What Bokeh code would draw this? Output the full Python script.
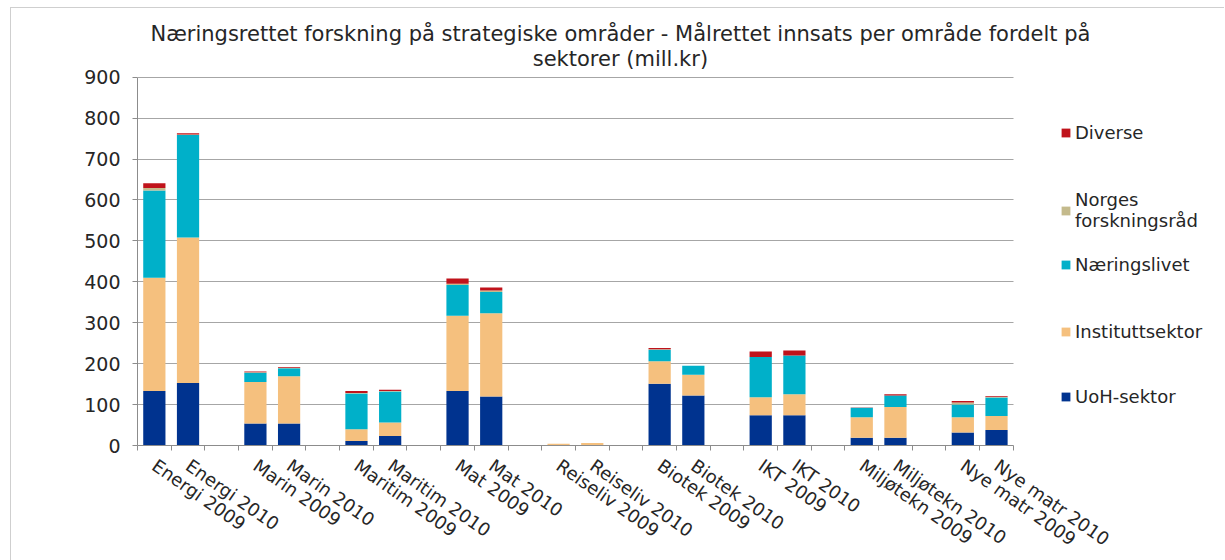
from bokeh.plotting import figure
from bokeh.models import (FixedTicker, Legend, LegendItem, Label, Range1d,
                          ColumnDataSource)
from bokeh.embed import file_html
from bokeh.resources import INLINE

categories = ["Energi 2009", "Energi 2010", "Marin 2009", "Marin 2010",
              "Maritim 2009", "Maritim 2010", "Mat 2009", "Mat 2010",
              "Reiseliv 2009", "Reiseliv 2010", "Biotek 2009", "Biotek 2010",
              "IKT 2009", "IKT 2010", "Miljøtekn 2009", "Miljøtekn 2010",
              "Nye matr 2009", "Nye matr 2010"]
uoh = [133, 153, 54, 54, 11, 23, 133, 120, 0, 0, 151, 122, 74, 74, 19, 19, 32, 38]
institutt = [277, 355, 101, 115, 29, 33, 184, 203, 4, 6, 55, 51, 44, 51, 50, 75, 37, 34]
naering = [213, 251, 23, 20, 87, 76, 75, 52, 0, 0, 28, 22, 98, 95, 23, 28, 31, 45]
norges = [6, 1, 1, 1, 1, 1, 3, 4, 0, 0, 1, 0, 0, 0, 0, 0, 5, 2]
diverse = [12, 3, 2, 2, 5, 3, 13, 7, 0, 0, 3, 0, 14, 12, 1, 3, 4, 2]

series_keys = ["uoh", "institutt", "naering", "norges", "diverse"]
series_labels = ["UoH-sektor", "Instituttsektor", "Næringslivet",
                 "Norges\nforskningsråd", "Diverse"]
colors = ["#00338F", "#F5C07E", "#00B0C9", "#C4BA8C", "#C0131B"]
y_ticks = [0, 100, 200, 300, 400, 500, 600, 700, 800, 900]
title_lines = ["Næringsrettet forskning på strategiske områder - Målrettet innsats per område fordelt på",
               "sektorer (mill.kr)"]

# each pair of years is followed by an empty slot
xpos = [i + i // 2 for i in range(len(categories))]
n_slots = xpos[-1] + 1
y_max = y_ticks[-1]

# ---- layout (pixels) ----
MARGIN_L, MARGIN_T = 10, 7         # outer chart border offset
W, H = 1214, 553                   # element size (includes margin + border)
INNER_W, INNER_H = W - MARGIN_L - 1, H - MARGIN_T - 1
DATA_W, DATA_H = 867, 370          # pixel size of the category / 0..900 area
LEFT, BOTTOM = 126, 106            # borders holding the axes
frame_w = INNER_W - LEFT
frame_h = INNER_H - BOTTOM
x_end = -0.5 + n_slots * frame_w / DATA_W
y_end = y_max * frame_h / DATA_H

source = ColumnDataSource(dict(x=xpos, uoh=uoh, institutt=institutt,
                               naering=naering, norges=norges, diverse=diverse))

p = figure(width=W, height=H, output_backend="svg", toolbar_location=None,
           x_range=Range1d(-0.5, x_end), y_range=Range1d(0, y_end),
           min_border_left=LEFT, min_border_right=0, min_border_top=0,
           min_border_bottom=BOTTOM)
p.outline_line_color = None
p.background_fill_color = "white"
p.border_fill_color = "white"
p.styles = {"border-left": "1px solid #cfcfcf", "border-top": "1px solid #cfcfcf",
            "margin-left": f"{MARGIN_L}px", "margin-top": f"{MARGIN_T}px"}

renderers = p.vbar_stack(series_keys, x="x", width=0.66, source=source,
                         color=colors, line_color=None)

# axes
TXT = "#262626"
AX = "#8c8c8c"
p.yaxis.ticker = FixedTicker(ticks=y_ticks)
p.yaxis.bounds = (0, y_max)
p.yaxis.major_label_text_font = "DejaVu Sans"
p.yaxis.major_label_text_font_size = "19px"
p.yaxis.major_label_text_color = TXT
p.yaxis.axis_line_color = AX
p.yaxis.major_tick_line_color = AX
p.yaxis.major_tick_out = 5
p.yaxis.major_tick_in = 0
p.yaxis.minor_tick_line_color = None
p.yaxis.major_label_standoff = 12

p.xaxis.ticker = FixedTicker(ticks=xpos,
                             minor_ticks=[k - 0.5 for k in range(n_slots + 1)])
p.xaxis.bounds = (-0.5, n_slots - 0.5)
p.xaxis.major_label_overrides = {x: c for x, c in zip(xpos, categories)}
p.xaxis.major_label_orientation = -0.61
p.xaxis.major_label_text_font = "DejaVu Sans"
p.xaxis.major_label_text_font_size = "18px"
p.xaxis.major_label_text_color = TXT
p.xaxis.major_tick_line_color = None
p.xaxis.minor_tick_line_color = AX
p.xaxis.minor_tick_out = 5
p.xaxis.minor_tick_in = 0
p.xaxis.axis_line_color = AX
p.xaxis.major_label_standoff = 12

p.xgrid.grid_line_color = None
p.ygrid.ticker = FixedTicker(ticks=y_ticks[1:])
p.ygrid.grid_line_color = "#a6a6a6"
p.ygrid.grid_line_width = 1
try:
    p.ygrid.cross_bounds = (-0.5, n_slots - 0.5)
except Exception:
    p.ygrid.grid_line_color = None
    p.segment(x0=[-0.5] * (len(y_ticks) - 1), x1=[n_slots - 0.5] * (len(y_ticks) - 1),
              y0=y_ticks[1:], y1=y_ticks[1:], line_color="#a6a6a6", line_width=1,
              level="underlay")

# title (positions relative to the plotting frame)
TITLE_X = DATA_W * 0.557
for line, yoff in zip(title_lines, [412, 387]):
    p.add_layout(Label(x=TITLE_X, y=yoff, x_units="screen", y_units="screen",
                       text=line, text_align="center", text_baseline="alphabetic",
                       text_font="DejaVu Sans", text_font_size="21px",
                       text_color=TXT))

# legend: one block per series, placed like the original
LEG_X = 923
legend_bottoms = [38.5, 103.5, 170.5, 214, 302]
for r, lab, yb in zip(renderers, series_labels, legend_bottoms):
    leg = Legend(items=[LegendItem(label=lab, renderers=[r])], location=(LEG_X, yb),
                 padding=0, margin=0, spacing=0, border_line_color=None,
                 background_fill_alpha=0, glyph_width=11, glyph_height=11,
                 label_standoff=4, label_height=18,
                 label_text_font="DejaVu Sans", label_text_font_size="18px",
                 label_text_color=TXT)
    p.add_layout(leg, "center")

open("out.html", "w").write(file_html(p, INLINE))
